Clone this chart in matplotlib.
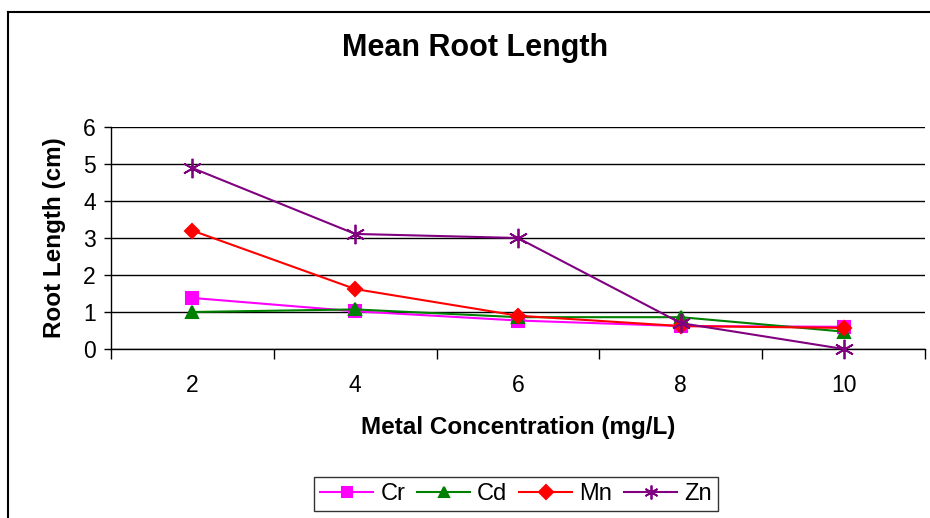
import numpy as np
import matplotlib
matplotlib.use('Agg')
import matplotlib.pyplot as plt
from matplotlib.lines import Line2D

plt.rcParams['font.family'] = ['Liberation Sans', 'DejaVu Sans']

# data
concentration = ['2', '4', '6', '8', '10']
cr = [1.38, 1.02, 0.77, 0.62, 0.60]
cd = [1.00, 1.07, 0.86, 0.86, 0.47]
mn = [3.20, 1.62, 0.90, 0.62, 0.57]
zn = [4.89, 3.11, 3.00, 0.70, 0.00]

W, H = 930, 518
fig = plt.figure(figsize=(W / 100, H / 100), dpi=100)

# outer chart border (top and left only visible in the reference)
fig.add_artist(Line2D([8 / W, 1], [1 - 12 / H, 1 - 12 / H], color='black', lw=1.5))
fig.add_artist(Line2D([8 / W, 8 / W], [0, 1 - 12 / H], color='black', lw=1.5))

ax = fig.add_axes([111 / W, (H - 349) / H, (925 - 111) / W, 222 / H])
x = np.arange(len(concentration))

series = [
    ('Cr', cr, '#FF00FF', 's', 8, 1.5),
    ('Cd', cd, '#008000', '^', 9, 1.5),
    ('Mn', mn, '#FF0000', 'D', 7, 1.5),
    ('Zn', zn, '#800080', (6, 2, 0), 14, 1.3),
]
for name, vals, col, mk, ms, mew in series:
    ax.plot(x, vals, color=col, marker=mk, markersize=ms, lw=1.5,
            markeredgecolor=col, markeredgewidth=mew, label=name, clip_on=False, zorder=3)

ax.set_xlim(-0.5, len(concentration) - 0.5)
ax.set_ylim(0, 6)
ax.set_yticks(range(7))
ax.set_xticks(x)
ax.set_xticklabels(concentration)
ax.set_xticks(np.arange(-0.5, len(concentration), 1.0), minor=True)
ax.tick_params(axis='x', which='major', length=0, pad=18, labelsize=16.5)
ax.tick_params(axis='x', which='minor', length=7, width=1, direction='out')
ax.tick_params(axis='y', length=5, width=1, direction='out', labelsize=16.5, pad=6)
ax.yaxis.grid(True, color='black', lw=1)
ax.set_axisbelow(True)
for s in ['top', 'right']:
    ax.spines[s].set_visible(False)
for s in ['left', 'bottom']:
    ax.spines[s].set_linewidth(1)

ax.set_xlabel('Metal Concentration (mg/L)', fontsize=17.5, fontweight='bold', labelpad=14)
ax.set_ylabel('Root Length (cm)', fontsize=17.5, fontweight='bold', labelpad=12)
fig.text(475 / W, 1 - 48 / H, 'Mean Root Length', ha='center', va='center',
         fontsize=22, fontweight='bold')

leg = fig.legend(loc='center', bbox_to_anchor=(516 / W, 1 - 494 / H), ncol=4,
                 fontsize=17, frameon=True, fancybox=False, edgecolor='black',
                 handlelength=2.25, columnspacing=0.5, handletextpad=0.3,
                 borderpad=0.25, borderaxespad=0)
leg.get_frame().set_linewidth(1)
for h in leg.legend_handles:
    h.set_markersize(7)
leg.legend_handles[3].set_markersize(10)

fig.savefig('out.png', dpi=100)
